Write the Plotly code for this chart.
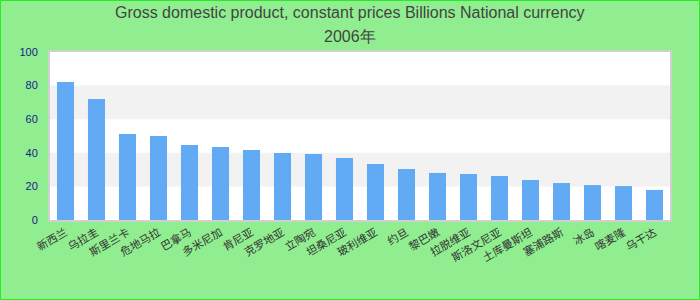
import plotly.graph_objects as go

categories = ["新西兰", "乌拉圭", "斯里兰卡", "危地马拉", "巴拿马", "多米尼加", "肯尼亚", "克罗地亚", "立陶宛", "坦桑尼亚",
              "玻利维亚", "约旦", "黎巴嫩", "拉脱维亚", "斯洛文尼亚", "土库曼斯坦", "塞浦路斯", "冰岛", "喀麦隆", "乌干达"]
values = [82.1, 72.0, 51.2, 50.0, 44.6, 43.5, 41.7, 39.9, 39.3, 36.9,
          33.3, 30.4, 28.0, 27.4, 26.2, 23.8, 22.0, 20.8, 20.2, 17.9]
y_ticks = [0, 20, 40, 60, 80, 100]
title_line1 = "Gross domestic product, constant prices Billions National currency"
title_line2 = "2006年"

W, H = 700, 300
ml, mr, mt, mb = 50, 30, 52, 80
pw = W - ml - mr
ph = H - mt - mb

fig = go.Figure(go.Bar(x=categories, y=values, marker=dict(color="#62aaf4", line=dict(width=0)), width=0.55))

shapes = []
for lo, hi in [(20, 40), (60, 80)]:
    shapes.append(dict(type="rect", xref="paper", yref="y", x0=0, x1=1, y0=lo, y1=hi,
                       fillcolor="#f2f2f2", line=dict(width=0), layer="below"))
shapes.append(dict(type="rect", xref="paper", yref="paper",
                   x0=-ml / pw + 0.5 / pw, x1=1 + (mr - 0.5) / pw,
                   y0=-mb / ph + 0.5 / ph, y1=1 + (mt - 0.5) / ph,
                   line=dict(color="#22ee22", width=1), fillcolor="rgba(0,0,0,0)", layer="above"))

def py(px):
    return 1 + (mt - px) / ph

annotations = [
    dict(text=title_line1, xref="paper", yref="paper", x=(350 - ml) / pw, y=py(12.5),
         xanchor="center", yanchor="middle", showarrow=False, font=dict(size=16, color="#444444")),
    dict(text=title_line2, xref="paper", yref="paper", x=(350 - ml) / pw, y=py(36.5),
         xanchor="center", yanchor="middle", showarrow=False, font=dict(size=16, color="#444444")),
]

fig.update_layout(
    width=W, height=H,
    margin=dict(l=ml, r=mr, t=mt, b=mb),
    paper_bgcolor="#90ee90",
    plot_bgcolor="white",
    font=dict(family="Liberation Sans, Arial, sans-serif"),
    showlegend=False,
    shapes=shapes,
    annotations=annotations,
    xaxis=dict(tickangle=-30, tickfont=dict(size=11, color="#333333", family="Noto Sans CJK SC"),
               showline=True, linecolor="#d0d0d0", linewidth=2, mirror=True,
               showgrid=False, ticks="", range=[-0.5, len(categories) - 0.5]),
    yaxis=dict(range=[0, 100], tickvals=y_ticks, showgrid=False, zeroline=False,
               tickfont=dict(size=11, color="#1a1a8c"),
               showline=True, linecolor="#d0d0d0", linewidth=2, mirror=True,
               ticks="outside", ticklen=8, tickcolor="rgba(0,0,0,0)"),
)

fig.write_html("out.html")
